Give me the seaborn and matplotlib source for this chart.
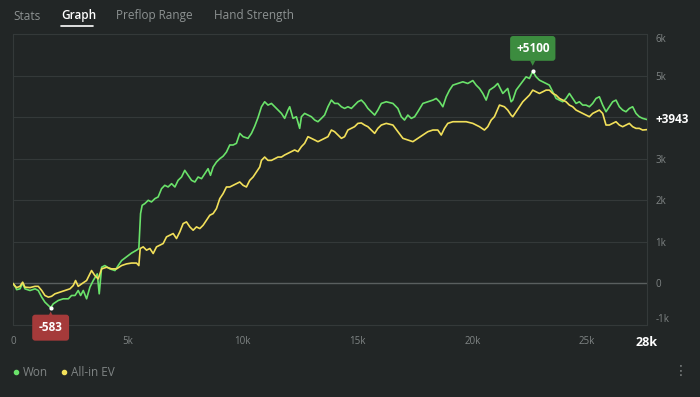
import matplotlib.pyplot as plt
import seaborn as sns
import numpy as np
from matplotlib.lines import Line2D

# Dark session-graph style
sns.set_theme(style="dark")
plt.rcParams['font.family'] = ['Open Sans', 'DejaVu Sans']

BG = '#222626'
GRID = '#343939'
ZERO_LINE = '#5a5f5f'
MUTED = '#7f8484'
TAB_MUTED = '#8d9292'
WON_COLOR = '#6ae26a'
EV_COLOR = '#f2e05a'
PEAK_BOX = '#3c8c3f'
LOW_BOX = '#a53a3a'

tabs = ['Stats', 'Graph', 'Preflop Range', 'Hand Strength']
active_tab = 'Graph'
series_labels = ['Won', 'All-in EV']

y_ticks = [-1000, 0, 1000, 2000, 3000, 4000, 5000, 6000]
y_tick_labels = ['-1k', '0', '1k', '2k', '3k', '', '5k', '6k']
x_ticks = [0, 5000, 10000, 15000, 20000, 25000]
x_tick_labels = ['0', '5k', '10k', '15k', '20k', '25k']
total_hands_label = '28k'

# Won (hands played -> cumulative winnings)
won_hands = [0, 100, 160, 305, 420, 520, 740, 960, 1100, 1250, 1390, 1540, 1640, 1755,
             1970, 2190, 2410, 2550, 2700, 2840, 2945, 3060, 3205, 3350, 3495, 3670, 3755,
             3860, 4000, 4220, 4440, 4580, 4730, 4945, 5160, 5380, 5480, 5555, 5625, 5740,
             5890, 6030, 6180, 6320, 6470, 6610, 6755, 6905, 7050, 7190, 7340, 7480, 7625,
             7775, 7920, 8060, 8210, 8350, 8495, 8600, 8715, 8860, 9005, 9150, 9295, 9440,
             9585, 9730, 9875, 10020, 10235, 10385, 10525, 10670, 10820, 10960, 11105, 11255,
             11400, 11540, 11690, 11830, 11975, 12050, 12195, 12340, 12485, 12560, 12700,
             12845, 12995, 13140, 13280, 13430, 13570, 13715, 13865, 14005, 14150, 14300,
             14440, 14585, 14735, 14875, 15020, 15170, 15310, 15455, 15605, 15750, 15890,
             16040, 16255, 16545, 16760, 16910, 17050, 17195, 17345, 17490, 17630, 17850,
             18065, 18285, 18430, 18575, 18720, 18865, 19010, 19155, 19370, 19590, 19805,
             20025, 20170, 20315, 20460, 20605, 20750, 20965, 21110, 21330, 21545, 21690,
             21765, 21910, 22130, 22345, 22490, 22635, 22780, 22925, 23070, 23215, 23360,
             23505, 23650, 23795, 23940, 24085, 24230, 24375, 24520, 24665, 24810, 24955,
             25100, 25245, 25390, 25535, 25680, 25825, 25970, 26115, 26260, 26405, 26550,
             26695, 26840, 26985, 27130, 27275, 27420, 27610]
won_values = [0, -80, -150, -130, 10, -130, -170, -130, -170, -330, -450, -530, -583, -490,
              -410, -370, -370, -290, -290, -170, -290, -170, -370, -90, 70, 230, -250,
              390, 430, 350, 310, 430, 550, 640, 730, 800, 840, 1680, 1880, 1920,
              2000, 1960, 2040, 2080, 2280, 2360, 2320, 2400, 2320, 2480, 2560, 2720, 2600,
              2480, 2440, 2560, 2520, 2640, 2760, 2600, 2800, 2920, 3000, 3060, 3160, 3330,
              3330, 3370, 3610, 3530, 3490, 3610, 3780, 3990, 4250, 4370, 4290, 4330,
              4250, 4170, 4090, 3970, 4170, 4250, 3970, 4010, 3730, 4010, 4090,
              4050, 4010, 3930, 3890, 3970, 4050, 4250, 4410, 4330, 4330, 4250,
              4210, 4250, 4210, 4290, 4370, 4410, 4330, 4210, 4130, 4050, 4170,
              4330, 4370, 4330, 4210, 4010, 3930, 4050, 3970, 4010, 4130, 4330,
              4370, 4410, 4450, 4370, 4250, 4490, 4650, 4770, 4810, 4850, 4810,
              4880, 4770, 4690, 4570, 4410, 4650, 4730, 4810, 4570, 4690, 4370,
              4410, 4650, 4810, 4970, 4930, 5100, 4970, 4890, 4850, 4810, 4770,
              4610, 4450, 4410, 4370, 4450, 4570, 4450, 4330, 4370, 4290, 4290,
              4250, 4330, 4450, 4490, 4290, 4130, 4250, 4370, 4410, 4250, 4170,
              4130, 4210, 4250, 4090, 4010, 3970, 3943]

# All-in EV
ev_hands = [0, 100, 160, 305, 420, 520, 740, 960, 1100, 1250, 1390, 1540, 1680, 1827,
            2045, 2260, 2480, 2625, 2725, 2840, 2990, 3205, 3420, 3565, 3710, 3860, 4075,
            4295, 4510, 4730, 4945, 5160, 5380, 5480, 5540, 5670, 5815, 5960, 6105, 6250,
            6395, 6540, 6685, 6830, 6975, 7120, 7265, 7410, 7555, 7700, 7845, 7990, 8135,
            8280, 8425, 8570, 8715, 8860, 9005, 9150, 9295, 9440, 9585, 9730, 9875, 10020,
            10165, 10310, 10455, 10600, 10745, 10820, 10960, 11105, 11255, 11400, 11540,
            11690, 11830, 11975, 12125, 12265, 12410, 12560, 12700, 12845, 12995, 13140,
            13280, 13430, 13570, 13715, 13865, 14005, 14150, 14300, 14440, 14585, 14735,
            14875, 15020, 15170, 15310, 15455, 15605, 15750, 15890, 16040, 16255, 16545,
            16760, 16980, 17195, 17415, 17630, 17850, 18065, 18285, 18500, 18650, 18790,
            18935, 19155, 19445, 19735, 20025, 20315, 20530, 20675, 20825, 20965, 21185,
            21400, 21545, 21690, 21765, 21910, 22055, 22200, 22345, 22490, 22635, 22780,
            22925, 23070, 23215, 23360, 23505, 23650, 23795, 23940, 24085, 24230, 24375,
            24520, 24665, 24810, 24955, 25100, 25245, 25390, 25535, 25680, 25825, 25970,
            26115, 26260, 26405, 26550, 26695, 26840, 26985, 27130, 27275, 27420, 27610]
ev_values = [0, -70, -100, -70, 30, -90, -100, -70, -70, -170, -290, -330, -310, -250,
             -210, -170, -130, -50, 70, -70, -10, 70, 310, 190, 110, 350, 390,
             350, 350, 430, 470, 490, 490, 430, 840, 880, 800, 840, 720, 880,
             920, 960, 1120, 1160, 1200, 1080, 1240, 1440, 1480, 1360, 1280, 1360, 1320,
             1400, 1520, 1640, 1680, 1800, 2040, 2160, 2320, 2320, 2360, 2400, 2440, 2360,
             2320, 2480, 2560, 2680, 2800, 2960, 3040, 2960, 2960, 3000, 3040,
             3040, 3090, 3130, 3170, 3210, 3170, 3290, 3370, 3530, 3490, 3450,
             3410, 3450, 3490, 3530, 3690, 3650, 3570, 3490, 3530, 3690, 3730,
             3770, 3850, 3860, 3810, 3770, 3690, 3610, 3730, 3810, 3850, 3810,
             3650, 3490, 3450, 3410, 3490, 3570, 3650, 3690, 3690, 3570, 3730,
             3850, 3890, 3890, 3890, 3850, 3770, 3690, 3770, 3930, 4010, 4290,
             4250, 4170, 4050, 4010, 4130, 4250, 4370, 4450, 4530, 4650, 4610,
             4570, 4610, 4650, 4650, 4570, 4530, 4450, 4410, 4370, 4290, 4250,
             4170, 4130, 4090, 4050, 4010, 4090, 4130, 4170, 4090, 3810, 3810,
             3850, 3890, 3810, 3770, 3810, 3850, 3770, 3730, 3730, 3690, 3700]

W, H = 700, 397
fig = plt.figure(figsize=(W / 100, H / 100), dpi=100, facecolor=BG)
ax = fig.add_axes([13 / W, 1 - 325 / H, 634 / W, 291 / H])
ax.set_facecolor(BG)

# Lines
sns.lineplot(x=won_hands, y=won_values, ax=ax, color=WON_COLOR, linewidth=1.2, zorder=3)
sns.lineplot(x=ev_hands, y=ev_values, ax=ax, color=EV_COLOR, linewidth=1.2, zorder=4)

ax.set_xlim(0, won_hands[-1])
ax.set_ylim(-1000, 6000)
ax.set_xlabel('')
ax.set_ylabel('')

# Grid and frame
ax.grid(False)
for yv in y_ticks:
    ax.axhline(yv, color=GRID, linewidth=0.8, zorder=1)
ax.axhline(0, color=ZERO_LINE, linewidth=1.0, zorder=2)
for side in ['left', 'right', 'top', 'bottom']:
    ax.spines[side].set_visible(True)
    ax.spines[side].set_color(GRID)
    ax.spines[side].set_linewidth(0.8)

# Y ticks on the right
ax.yaxis.tick_right()
ax.set_yticks(y_ticks)
ax.set_yticklabels(y_tick_labels)
ax.tick_params(axis='y', length=0, pad=6, labelsize=7, labelcolor=MUTED)
ax.yaxis.get_major_ticks()[-1].label2.set_va('top')
ax.yaxis.get_major_ticks()[0].label2.set_va('bottom')

# X ticks + bold total
ax.set_xticks(x_ticks + [won_hands[-1]])
ax.set_xticklabels(x_tick_labels + [total_hands_label])
ax.tick_params(axis='x', length=0, pad=8, labelsize=7, labelcolor=MUTED)
last = ax.get_xticklabels()[-1]
last.set_color('white')
last.set_fontweight('bold')
last.set_fontsize(9)

# Peak / trough / final markers
imax = int(np.argmax(won_values))
imin = int(np.argmin(won_values))
for i in (imax, imin):
    ax.scatter([won_hands[i]], [won_values[i]], s=9, color='white', zorder=6, linewidths=0)

ax.annotate(f'+{won_values[imax]}', xy=(won_hands[imax], won_values[imax]),
            xytext=(0, 23), textcoords='offset pixels', ha='center', va='center',
            color='white', fontsize=8.5, fontweight='bold', zorder=7,
            bbox=dict(boxstyle='round,pad=0.5,rounding_size=0.25', fc=PEAK_BOX, ec='none'))
ax.annotate('\u25BC', xy=(won_hands[imax], won_values[imax]), xytext=(0, 8),
            textcoords='offset pixels', ha='center', va='center', color=PEAK_BOX,
            fontsize=5, family='DejaVu Sans', zorder=7)

ax.annotate(f'{won_values[imin]}', xy=(won_hands[imin], won_values[imin]),
            xytext=(0, -20), textcoords='offset pixels', ha='center', va='center',
            color='white', fontsize=8.5, fontweight='bold', zorder=7, annotation_clip=False,
            bbox=dict(boxstyle='round,pad=0.55,rounding_size=0.25', fc=LOW_BOX, ec='none'))
ax.annotate('\u25B2', xy=(won_hands[imin], won_values[imin]), xytext=(0, -6),
            textcoords='offset pixels', ha='center', va='center', color=LOW_BOX,
            fontsize=5, family='DejaVu Sans', zorder=7, annotation_clip=False)

ax.annotate(f'+{won_values[-1]}', xy=(won_hands[-1], won_values[-1]),
            xytext=(8, 0), textcoords='offset pixels', ha='left', va='center',
            color='white', fontsize=8.5, fontweight='bold', annotation_clip=False)

# Tabs on top
tab_x = [13, 61, 116, 214]
for name, x in zip(tabs, tab_x):
    active = name == active_tab
    fig.text(x / W, 1 - 16 / H, name, ha='left', va='center', fontsize=8.5,
             color='white' if active else TAB_MUTED,
             fontweight='semibold' if active else 'normal')
fig.add_artist(Line2D([61 / W, 93 / W], [1 - 26 / H, 1 - 26 / H], color='white',
                      linewidth=1.2, transform=fig.transFigure))

# Legend at the bottom
handles = [Line2D([], [], marker='o', linestyle='', markersize=3, color=WON_COLOR),
           Line2D([], [], marker='o', linestyle='', markersize=3, color=EV_COLOR)]
fig.legend(handles, series_labels, loc='center left', bbox_to_anchor=(12 / W, 1 - 373 / H),
           ncol=2, frameon=False, borderpad=0, borderaxespad=0, handletextpad=0.3,
           columnspacing=1.05, fontsize=8.5, labelcolor=MUTED, handlelength=0.6)

fig.text(681 / W, 1 - 371 / H, '\u22EE', ha='center', va='center', fontsize=10,
         color=MUTED, family='DejaVu Sans')

fig.savefig('out.png', dpi=100, facecolor=BG)
